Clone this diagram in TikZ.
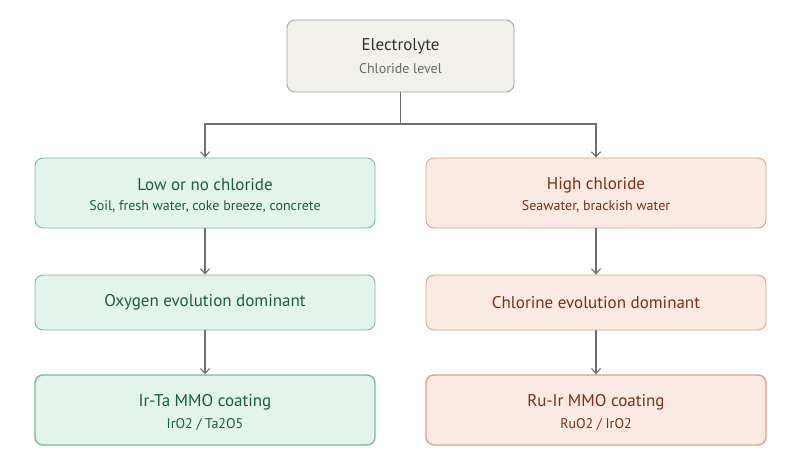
\documentclass[tikz,border=0pt]{standalone}
\usepackage{fontspec}
\setmainfont{PT Sans}
\usetikzlibrary{arrows.meta}
\definecolor{gfill}{HTML}{E3F4EC}\definecolor{gdraw}{HTML}{7DB89C}\definecolor{gtext}{HTML}{1E5A43}
\definecolor{rfill}{HTML}{FBEAE3}\definecolor{rdraw}{HTML}{D9A08C}\definecolor{rtext}{HTML}{7A2E1C}
\definecolor{nfill}{HTML}{F1F0EB}\definecolor{ndraw}{HTML}{A8A69E}\definecolor{ntext}{HTML}{33332F}
\definecolor{sub}{HTML}{6B6B66}\definecolor{arr}{HTML}{707070}
\begin{document}
\begin{tikzpicture}[x=1pt,y=-1pt,
 box/.style={rounded corners=8pt,line width=0.9pt,align=center,inner sep=0pt},
 gbox/.style={box,fill=gfill,draw=gdraw,text=gtext},
 rbox/.style={box,fill=rfill,draw=rdraw,text=rtext},
 nbox/.style={box,fill=nfill,draw=ndraw,text=ntext},
 fin/.style={line width=1.4pt},
 ttl/.style={font=\fontsize{17}{20}\selectfont},
 st/.style={font=\fontsize{14}{17}\selectfont},
 con/.style={draw=arr,line width=1.1pt,-{Straight Barb[length=5pt,width=9pt]}}]
\useasboundingbox (0,0) rectangle (800,470);
\node[nbox,minimum width=227pt,minimum height=72pt] (top) at (400.5,56) {};
\node[ttl,text=ntext] at (400.5,46) {Electrolyte};
\node[st,text=sub] at (400.5,69) {Chloride level};
\node[gbox,minimum width=340pt,minimum height=70pt] (l1) at (205,193) {};
\node[ttl,text=gtext] at (205,185) {Low or no chloride};
\node[st,text=gtext] at (205,207) {Soil, fresh water, coke breeze, concrete};
\node[rbox,minimum width=340pt,minimum height=70pt] (r1) at (596,193) {};
\node[ttl,text=rtext] at (596,185) {High chloride};
\node[st,text=rtext] at (596,207) {Seawater, brackish water};
\node[gbox,ttl,minimum width=340pt,minimum height=55pt] (l2) at (205,302.5) {Oxygen evolution dominant};
\node[rbox,ttl,minimum width=340pt,minimum height=55pt] (r2) at (596,302.5) {Chlorine evolution dominant};
\node[gbox,fin,minimum width=340pt,minimum height=70pt] (l3) at (205,410) {};
\node[ttl,text=gtext] at (205,402) {Ir-Ta MMO coating};
\node[st,text=gtext] at (205,424) {IrO2 / Ta2O5};
\node[rbox,fin,minimum width=340pt,minimum height=70pt] (r3) at (596,410) {};
\node[ttl,text=rtext] at (596,402) {Ru-Ir MMO coating};
\node[st,text=rtext] at (596,424) {RuO2 / IrO2};
\coordinate (j) at (400.5,124);
\draw[draw=arr,line width=1.1pt] (top.south) -- (j);
\draw[con] (j) -| (l1.north);
\draw[con] (j) -| (r1.north);
\draw[con] (l1) -- (l2);
\draw[con] (r1) -- (r2);
\draw[con] (l2) -- (l3);
\draw[con] (r2) -- (r3);
\end{tikzpicture}
\end{document}
